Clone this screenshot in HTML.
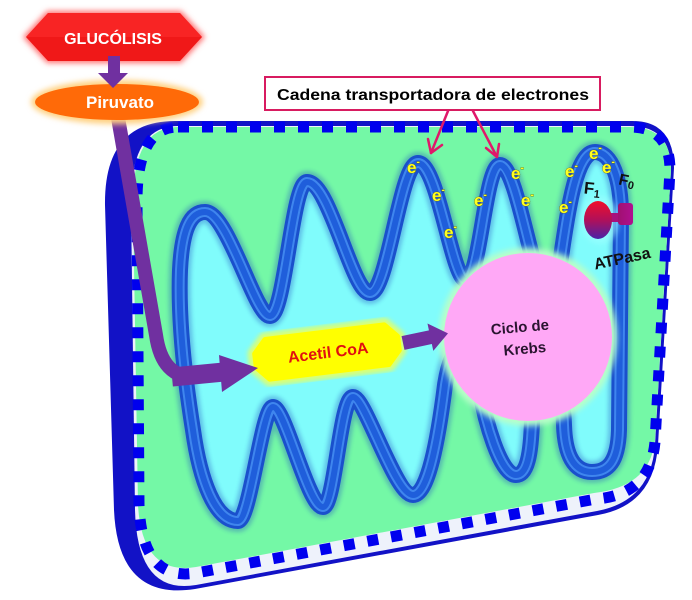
<!DOCTYPE html>
<html>
<head>
<meta charset="utf-8">
<style>
  html,body{margin:0;padding:0;background:#fff;}
  svg{display:block;}
  text{font-family:"Liberation Sans",Arial,sans-serif;font-weight:bold;}
</style>
</head>
<body>
<svg width="692" height="600" viewBox="0 0 692 600" xmlns="http://www.w3.org/2000/svg">
  <defs>
    <filter id="blur3" x="-20%" y="-20%" width="140%" height="140%"><feGaussianBlur stdDeviation="3"/></filter>
    <filter id="blur2" x="-20%" y="-20%" width="140%" height="140%"><feGaussianBlur stdDeviation="2"/></filter>
    <linearGradient id="atp" x1="0" y1="0" x2="0" y2="1">
      <stop offset="0" stop-color="#f0102a"/>
      <stop offset="0.5" stop-color="#b0105a"/>
      <stop offset="1" stop-color="#4a24a8"/>
    </linearGradient>
    <linearGradient id="atp2" x1="0" y1="0" x2="1" y2="0">
      <stop offset="0" stop-color="#a01070"/>
      <stop offset="1" stop-color="#b01090"/>
    </linearGradient>
    <path id="cr" d="M 238,521 C 215,521 200,480 193,430 C 185,380 178,320 180,270 C 182,230 190,212 205,212 C 228,212 255,316 270,316 C 285,316 292,182 307,182 C 330,182 352,293 370,293 C 388,293 400,163 418,163 C 438,163 452,280 466,280 C 480,280 485,165 500,165 C 518,165 535,300 550,300 C 562,300 565,152 595,152 C 612,152 621,180 621,215 L 619,430 C 618,462 608,472 592,472 C 574,472 565,455 564,425 C 563,395 556,380 548,380 C 540,380 533,395 532,420 C 531,455 527,475 516,475 C 500,475 485,420 480,390 C 475,360 470,345 463,345 C 455,345 448,365 445,385 C 438,440 428,495 413,495 C 395,495 365,397 353,397 C 340,397 335,507 323,507 C 308,507 285,407 273,407 C 262,407 250,521 238,521 Z"/>
  </defs>

  <rect width="692" height="600" fill="#ffffff"/>

  <!-- Mitochondrion outer membrane -->
  <path d="M 175,121 L 632,121 Q 674,121 674,168 L 658,445 Q 654,505 598,515 L 195,589 Q 118,601 114,510 L 105,205 Q 104,121 175,121 Z" fill="#1212c6"/>
  <path d="M 178,126 L 630,126 Q 671,126 671,170 L 655,445 Q 651,501 597,511 L 196,585 Q 137,595 135,510 L 131,205 Q 130,126 178,126 Z" fill="#eef2fb"/>
  <path d="M 178,127 L 630,127 Q 671,127 671,170 L 655,440 Q 650,487 594,493 L 196,567 Q 142,576 138,505 L 133,205 Q 132,127 178,127 Z" fill="#74f8a6"/>
  <path d="M 178,127 L 630,127 Q 670,127 670,170 L 655,442 Q 650,495 596,499 L 196,573 Q 142,582 139,505 L 137,205 Q 136,127 178,127 Z" fill="none" stroke="#0000ee" stroke-width="11" stroke-dasharray="11 13"/>

  <!-- Inner membrane -->
  <use href="#cr" fill="#80fcfc"/>
  <g fill="none" stroke-linejoin="round">
    <use href="#cr" stroke="#2050c0" stroke-width="22" opacity="0.35" filter="url(#blur2)"/>
    <use href="#cr" stroke="#1a50cc" stroke-width="16"/>
    <use href="#cr" stroke="#3f86ee" stroke-width="10"/>
    <use href="#cr" stroke="#1f5edb" stroke-width="6"/>
  </g>

  <!-- Krebs circle -->
  <circle cx="528" cy="337" r="89" fill="#b8ffc8" filter="url(#blur3)"/>
  <circle cx="528" cy="337" r="84" fill="#ffa8f6"/>
  <g transform="rotate(-5 522 340)" fill="#2a1430" font-size="15" text-anchor="middle">
    <text x="521" y="332">Ciclo de</text>
    <text x="524" y="354">Krebs</text>
  </g>

  <!-- Acetil CoA box -->
  <g transform="translate(327,352) rotate(-7)">
    <polygon points="-60,-20 60,-20 72,-7 72,7 60,20 -60,20 -72,7 -72,-7" fill="#d8ff78" stroke="#d8ff78" stroke-width="14" stroke-linejoin="round" filter="url(#blur2)"/>
    <polygon points="-60,-20 60,-20 72,-7 72,7 60,20 -60,20 -72,7 -72,-7" fill="#ffff00" stroke="#ffff00" stroke-width="5" stroke-linejoin="round"/>
    <text x="1" y="6" font-size="16" fill="#e01010" text-anchor="middle">Acetil CoA</text>
  </g>

  <!-- Purple arrows -->
  <g fill="#7030a0" stroke="none">
    <path d="M 117,112 L 156,335 Q 162,378 195,377 L 224,373" fill="none" stroke="#7030a0" stroke-width="14" stroke-linejoin="round"/>
    <path d="M 172,377 L 224,372" fill="none" stroke="#7030a0" stroke-width="19"/>
    <polygon points="219,355 258,368 222,392"/>
    <g transform="translate(403,343) rotate(-12)">
      <polygon points="0,-7 28,-7 28,-14 46,0 28,14 28,7 0,7"/>
    </g>
  </g>

  <!-- GLUCÓLISIS -->
  <polygon points="23,37 47,11 181,11 205,37 181,63 47,63" fill="#ff7070" filter="url(#blur3)"/>
  <polygon points="26,37 48,13 180,13 202,37 180,61 48,61" fill="#f01818"/>
  <polygon points="26,37 48,13 180,13 202,37" fill="#ff3030" opacity="0.5"/>
  <text x="113" y="44" font-size="16" fill="#ffffff" text-anchor="middle">GLUCÓLISIS</text>

  <!-- Piruvato -->
  <ellipse cx="117" cy="102" rx="86" ry="22" fill="#ffd080" filter="url(#blur3)"/>
  <ellipse cx="117" cy="102" rx="82" ry="18" fill="#ff6a08"/>
  <text x="120" y="108" font-size="17" fill="#ffffff" text-anchor="middle">Piruvato</text>

  <!-- arrow glucolisis -> piruvato -->
  <polygon points="108,56 120,56 120,73 128,73 113,88 98,73 108,73" fill="#7030a0"/>

  <!-- Cadena box -->
  <rect x="265" y="77" width="335" height="33" fill="#ffffff" stroke="#d81b60" stroke-width="2"/>
  <text x="433" y="100" font-size="16" fill="#000" text-anchor="middle" textLength="312" lengthAdjust="spacingAndGlyphs">Cadena transportadora de electrones</text>
  <g stroke="#e0186a" stroke-width="2.5" fill="none" stroke-linecap="round" stroke-linejoin="round">
    <line x1="448" y1="111" x2="431" y2="153"/>
    <polyline points="428,139 431,153 442,145"/>
    <line x1="473" y1="111" x2="497" y2="157"/>
    <polyline points="486,148 497,157 499,144"/>
  </g>

  <!-- ATP synthase -->
  <ellipse cx="600" cy="220" rx="19" ry="24" fill="#a0ffff" opacity="0.6" filter="url(#blur3)"/>
  <rect x="608" y="213" width="14" height="9" fill="#a8107c"/>
  <rect x="618" y="203" width="15" height="22" rx="3" fill="url(#atp2)"/>
  <ellipse cx="598" cy="220" rx="14" ry="19" fill="url(#atp)"/>

  <text x="584" y="194" font-size="17" fill="#111" transform="rotate(6 590 188)">F<tspan font-size="11" dy="3">1</tspan></text>
  <text x="619" y="186" font-size="16" fill="#111" transform="rotate(12 627 180)">F<tspan font-size="11" dy="2">0</tspan></text>
  <text x="622" y="264" font-size="16" fill="#111" text-anchor="middle" transform="rotate(-12 621 258)">ATPasa</text>

  <!-- electrons -->
  <g font-size="17" fill="#ffff22" stroke="#6a6a00" stroke-width="0.7" paint-order="stroke">
    <text x="407" y="173">e<tspan font-size="10" dy="-8">-</tspan></text>
    <text x="432" y="201">e<tspan font-size="10" dy="-8">-</tspan></text>
    <text x="444" y="238">e<tspan font-size="10" dy="-8">-</tspan></text>
    <text x="474" y="206">e<tspan font-size="10" dy="-8">-</tspan></text>
    <text x="511" y="179">e<tspan font-size="10" dy="-8">-</tspan></text>
    <text x="521" y="206">e<tspan font-size="10" dy="-8">-</tspan></text>
    <text x="565" y="177">e<tspan font-size="10" dy="-8">-</tspan></text>
    <text x="559" y="213">e<tspan font-size="10" dy="-8">-</tspan></text>
    <text x="589" y="159">e<tspan font-size="10" dy="-8">-</tspan></text>
    <text x="602" y="173">e<tspan font-size="10" dy="-8">-</tspan></text>
  </g>
</svg>
</body>
</html>
